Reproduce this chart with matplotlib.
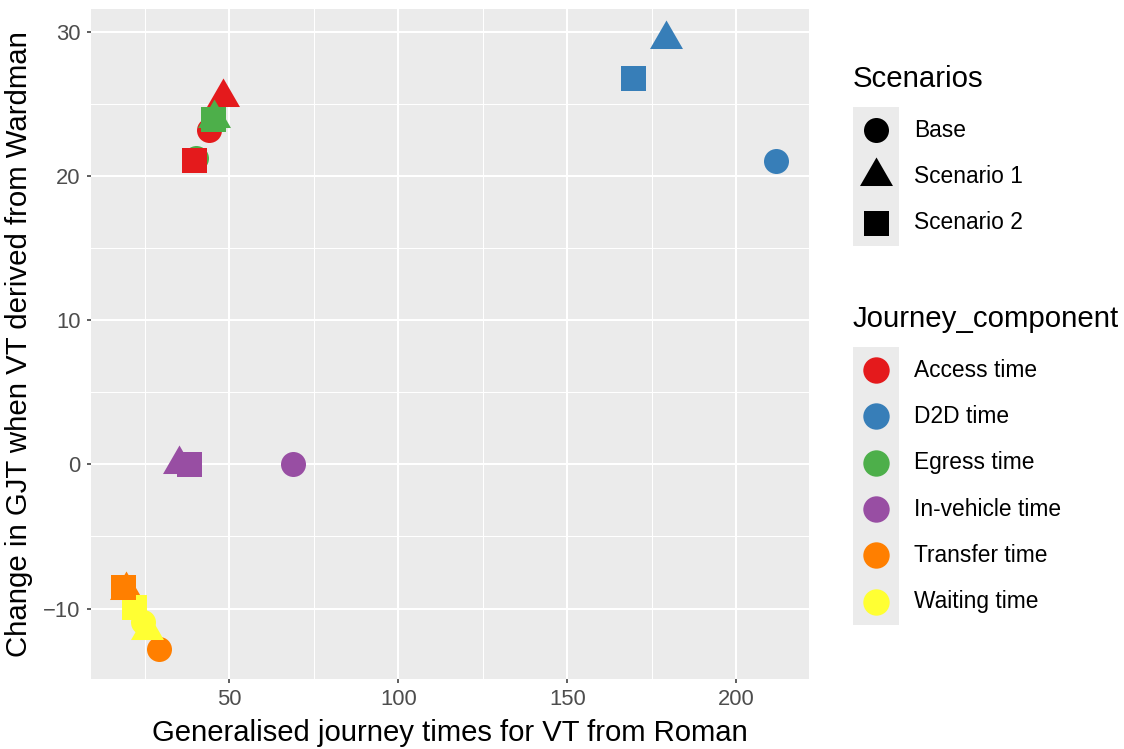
import matplotlib
matplotlib.use("Agg")
import matplotlib.pyplot as plt
from matplotlib.path import Path
from matplotlib.ticker import MultipleLocator

plt.rcParams['font.family'] = ['Liberation Sans', 'DejaVu Sans']

# ---- data -------------------------------------------------------------
components = ["Access time", "D2D time", "Egress time",
              "In-vehicle time", "Transfer time", "Waiting time"]
scenarios = ["Base", "Scenario 1", "Scenario 2"]

# one row per point, listed in drawing order
row_component = ["Access time", "D2D time", "Egress time", "In-vehicle time", "Transfer time", "Waiting time",
                 "Access time", "D2D time", "Egress time", "In-vehicle time", "Transfer time", "Waiting time",
                 "Access time", "D2D time", "Egress time", "In-vehicle time", "Waiting time", "Transfer time"]
row_scenario = ["Base"] * 6 + ["Scenario 1"] * 6 + ["Scenario 2"] * 6
gjt_roman = [44.0, 211.8, 40.2, 68.8, 29.1, 24.4,
             48.1, 179.3, 45.4, 35.3, 19.4, 25.8,
             39.7, 169.4, 45.1, 38.0, 21.9, 18.7]
gjt_change = [23.2, 21.0, 21.2, 0.0, -12.77, -10.9,
              25.45, 29.45, 24.0, 0.0, -8.7, -11.5,
              21.1, 26.8, 23.96, 0.0, -9.88, -8.47]

x_ticks = [50, 100, 150, 200]
y_ticks = [-10, 0, 10, 20, 30]

# ---- styling ----------------------------------------------------------
palette = ["#E41A1C", "#377EB8", "#4DAF4A", "#984EA3", "#FF7F00", "#FFFF33"]
colour_of = dict(zip(components, palette))

# filled triangle with its centroid at the origin (R's pch 17 geometry)
tri = Path([(0.0, 1.5551), (1.3468, -0.7776), (-1.3468, -0.7776), (0.0, 1.5551)],
           [Path.MOVETO, Path.LINETO, Path.LINETO, Path.CLOSEPOLY])
marker_of = {"Base": "o", "Scenario 1": tri, "Scenario 2": "s"}
msize_of = {"Base": 18.0, "Scenario 1": 27.4, "Scenario 2": 18.0}

W, H = 1124, 749
fig = plt.figure(figsize=(W / 100, H / 100), dpi=100)
fig.patch.set_facecolor("white")

px_l, px_r, px_t, px_b = 90.7, 809.0, 9.0, 679.0
ax = fig.add_axes([px_l / W, 1 - px_b / H, (px_r - px_l) / W, (px_b - px_t) / H])
ax.set_facecolor("#EBEBEB")
for s in ax.spines.values():
    s.set_visible(False)

for comp, scen, xv, yv in zip(row_component, row_scenario, gjt_roman, gjt_change):
    ax.plot([xv], [yv], linestyle="none", marker=marker_of[scen],
            markersize=msize_of[scen], markerfacecolor=colour_of[comp],
            markeredgewidth=0, zorder=3)

# ggplot-style 5% expansion
xmin, xmax = min(gjt_roman), max(gjt_roman)
ymin, ymax = min(gjt_change), max(gjt_change)
dx, dy = 0.05 * (xmax - xmin), 0.05 * (ymax - ymin)
ax.set_xlim(xmin - dx, xmax + dx)
ax.set_ylim(ymin - dy, ymax + dy)

ax.set_xticks(x_ticks)
ax.set_yticks(y_ticks)
ax.xaxis.set_minor_locator(MultipleLocator(25))
ax.yaxis.set_minor_locator(MultipleLocator(5))
ax.grid(which="major", color="white", linewidth=1.45, zorder=0)
ax.grid(which="minor", color="white", linewidth=0.72, zorder=0)
ax.set_axisbelow(True)
ax.tick_params(which="major", length=2.9, width=1.1, color="#333333",
               labelsize=15.8, labelcolor="#4D4D4D", pad=4.5)
ax.tick_params(which="minor", length=0)

ax.set_xlabel("Generalised journey times for VT from Roman", fontsize=21.1, labelpad=6)
ax.set_ylabel("Change in GJT when VT derived from Wardman", fontsize=21.2, labelpad=7)

# ---- legends (drawn in pixel space) -----------------------------------
lg = fig.add_axes([0, 0, 1, 1], zorder=5)
lg.set_xlim(0, W)
lg.set_ylim(H, 0)
lg.axis("off")
lg.patch.set_alpha(0)

key_x0, key_w, key_h = 853, 46, 46.3
label_x = 914


def draw_legend(title, title_y, top, entries):
    lg.text(key_x0, title_y, title, fontsize=21.2, va="center", ha="left")
    for i, (label, marker, ms, colour) in enumerate(entries):
        y0 = top + i * key_h
        lg.add_patch(plt.Rectangle((key_x0, y0), key_w, key_h,
                                   facecolor="#EBEBEB", edgecolor="none"))
        lg.plot([key_x0 + key_w / 2], [y0 + key_h / 2], linestyle="none",
                marker=marker, markersize=ms, markerfacecolor=colour,
                markeredgewidth=0)
        lg.text(label_x, y0 + key_h / 2, label, fontsize=16.4, va="center", ha="left")


draw_legend("Scenarios", 79, 107,
            [(s, marker_of[s], msize_of[s], "black") for s in scenarios])
draw_legend("Journey_component", 319, 347,
            [(c, "o", 19.0, colour_of[c]) for c in components])

fig.savefig("out.png", dpi=100)
